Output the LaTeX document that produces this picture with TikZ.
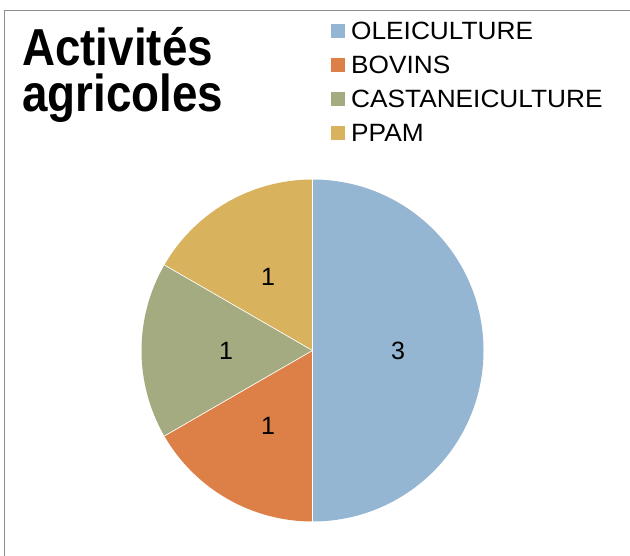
\documentclass[tikz,border=0pt]{standalone}
\usepackage{fontspec}
\usetikzlibrary{calc}
\setmainfont{Liberation Sans}
\newfontfamily\titlefont[FakeStretch=0.88]{Liberation Sans}
\newfontfamily\legfont[FakeStretch=1.05]{Liberation Sans}
\definecolor{oleic}{HTML}{94B6D2}
\definecolor{bovin}{HTML}{DD8047}
\definecolor{castan}{HTML}{A5AB81}
\definecolor{ppam}{HTML}{D8B25C}
\definecolor{framegray}{HTML}{8E8E8E}
\tikzset{
  titletxt/.style={anchor=base west, inner sep=0pt, align=left, font=\titlefont\bfseries\fontsize{52}{46}\selectfont},
  legtxt/.style={anchor=base west, inner sep=0pt, font=\legfont\fontsize{25}{25}\selectfont},
  legbox/.style={minimum width=13.5pt, minimum height=13.5pt, inner sep=0pt, draw=none},
  valtxt/.style={inner sep=0pt, font=\fontsize{25}{25}\selectfont},
  sep/.style={draw=white, line width=0.7pt}
}
\begin{document}
\begin{tikzpicture}[x=1pt,y=-1pt]
\useasboundingbox (0,0) rectangle (630,556);
\fill[white] (0,0) rectangle (630,556);
% frame
\draw[framegray, line width=1.5pt] (4.5,556) -- (4.5,10.5) -- (630,10.5);
% title
\node[titletxt] (t1) at (22,111.7) {Activités\\agricoles};
% legend
\node[legbox, fill=oleic]  (k1) at (338,31) {};
\node[legbox, fill=bovin]  (k2) at (338,65) {};
\node[legbox, fill=castan] (k3) at (338,99) {};
\node[legbox, fill=ppam]   (k4) at (338,133) {};
\node[legtxt] (l1) at (351,39.5) {OLEICULTURE};
\node[legtxt] (l2) at (351,73.5) {BOVINS};
\node[legtxt] (l3) at (351,107.5) {CASTANEICULTURE};
\node[legtxt] (l4) at (351,141.5) {PPAM};
% pie
\coordinate (c) at (312.5,350.5);
\fill[oleic]  (c) -- +(90:171) arc[start angle=90, end angle=-90, radius=171] -- cycle;
\fill[ppam]   (c) -- +(-90:171) arc[start angle=-90, end angle=-150, radius=171] -- cycle;
\fill[castan] (c) -- +(-150:171) arc[start angle=-150, end angle=-210, radius=171] -- cycle;
\fill[bovin]  (c) -- +(-210:171) arc[start angle=-210, end angle=-270, radius=171] -- cycle;
\coordinate (e1) at ($(c)+(90:171)$);
\coordinate (e2) at ($(c)+(-90:171)$);
\coordinate (e3) at ($(c)+(-150:171)$);
\coordinate (e4) at ($(c)+(-210:171)$);
\draw[sep] (e1) -- (e2);
\draw[sep] (c) -- (e3);
\draw[sep] (c) -- (e4);
% values
\node[valtxt] (v1) at (398,351) {3};
\node[valtxt] (v2) at (268,276.5) {1};
\node[valtxt] (v3) at (226,351) {1};
\node[valtxt] (v4) at (268,426) {1};
\end{tikzpicture}
\end{document}
